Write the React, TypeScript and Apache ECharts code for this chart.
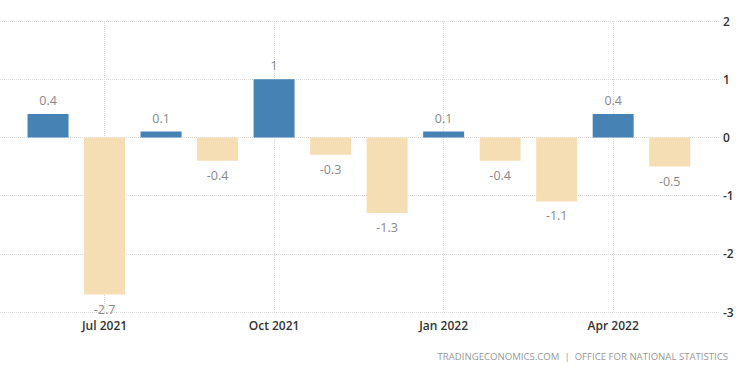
import React, { useEffect, useRef } from "react";
import * as echarts from "echarts";

const months = [
  "Jun 2021", "Jul 2021", "Aug 2021", "Sep 2021", "Oct 2021", "Nov 2021",
  "Dec 2021", "Jan 2022", "Feb 2022", "Mar 2022", "Apr 2022", "May 2022",
];
const values = [0.4, -2.7, 0.1, -0.4, 1, -0.3, -1.3, 0.1, -0.4, -1.1, 0.4, -0.5];
const tickLabels = ["Jul 2021", "Oct 2021", "Jan 2022", "Apr 2022"];
const yTicks = [-3, -2, -1, 0, 1, 2];
const sourceText = "TRADINGECONOMICS.COM  |  OFFICE FOR NATIONAL STATISTICS";

const POS = "#4682b4";
const NEG = "#f5deb3";
const FONT = "Open Sans";

export default function App() {
  const ref = useRef<HTMLDivElement>(null);
  useEffect(() => {
    document.body.style.margin = "0";
    const chart = echarts.init(ref.current!, null, { renderer: "svg" });
    const tickIdx = tickLabels.map((l) => months.indexOf(l));
    chart.setOption({
      animation: false,
      backgroundColor: "#fff",
      grid: { left: 0, right: 30, top: 21, bottom: 63, containLabel: false },
      xAxis: {
        type: "value",
        min: -0.85,
        max: 11.89,
        axisLine: { show: false },
        axisTick: { show: false },
        splitLine: { show: false },
        axisLabel: {
          customValues: tickIdx,
          formatter: (v: number) => (tickIdx.includes(v) ? months[v] : ""),
          color: "#333",
          fontSize: 12,
          fontWeight: 600,
          fontFamily: FONT,
          margin: 7,
        },
      },
      yAxis: {
        type: "value",
        position: "right",
        min: yTicks[0],
        max: yTicks[yTicks.length - 1],
        interval: 1,
        axisLine: { show: false },
        axisTick: { show: false },
        axisLabel: { color: "#333", fontSize: 12, fontWeight: 600, fontFamily: FONT, margin: 3 },
        splitLine: { lineStyle: { color: "#d9d9d9", type: [1, 1] } },
      },
      series: [
        {
          type: "bar",
          barWidth: 41,
          z: 2,
          data: values.map((v, i) => ({
            value: [i, v],
            itemStyle: { color: v >= 0 ? POS : NEG },
            label: { position: v >= 0 ? "top" : "bottom", distance: v >= 0 ? 7 : 8 },
          })),
          label: {
            show: true,
            color: "#888",
            fontSize: 12.5,
            fontFamily: FONT,
            formatter: (p: any) => String(p.value[1]),
          },
          markLine: {
            silent: true,
            z: 1,
            symbol: ["none", "none"],
            label: { show: false },
            lineStyle: { color: "#d9d9d9", type: [1, 1], width: 1 },
            data: tickIdx.map((i) => ({ xAxis: i })),
          },
        },
      ],
      graphic: [
        {
          type: "text",
          right: 22,
          top: 351,
          style: {
            text: sourceText,
            fill: "#999",
            fontSize: 9.6,
            fontFamily: FONT,
          },
        },
      ],
    });
    return () => chart.dispose();
  }, []);
  return <div ref={ref} style={{ width: 750, height: 375 }} />;
}
